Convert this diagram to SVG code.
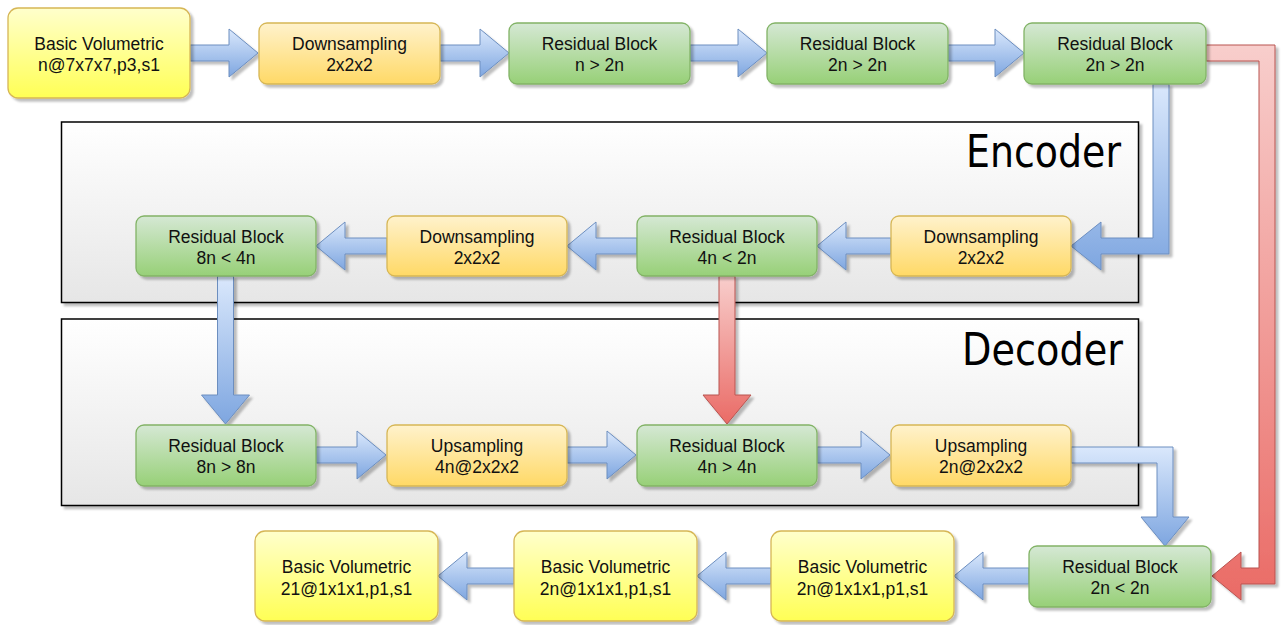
<svg xmlns="http://www.w3.org/2000/svg" width="1283" height="625" viewBox="0 0 1283 625">
  <defs>
    <linearGradient id="gYellow" x1="0" y1="0" x2="0" y2="1">
      <stop offset="0" stop-color="#ffffcc"/>
      <stop offset="1" stop-color="#ffff55"/>
    </linearGradient>
    <linearGradient id="gOrange" x1="0" y1="0" x2="0" y2="1">
      <stop offset="0" stop-color="#fff2cc"/>
      <stop offset="1" stop-color="#ffd966"/>
    </linearGradient>
    <linearGradient id="gGreen" x1="0" y1="0" x2="0" y2="1">
      <stop offset="0" stop-color="#d5e8d4"/>
      <stop offset="1" stop-color="#97d077"/>
    </linearGradient>
    <linearGradient id="gBlue" x1="0" y1="0" x2="0" y2="1">
      <stop offset="0" stop-color="#dae8fc"/>
      <stop offset="1" stop-color="#7ea6e0"/>
    </linearGradient>
    <linearGradient id="gRed" x1="0" y1="0" x2="0" y2="1">
      <stop offset="0" stop-color="#f8cecc"/>
      <stop offset="1" stop-color="#ea6b66"/>
    </linearGradient>
    <linearGradient id="gPanel" x1="0" y1="0" x2="0" y2="1">
      <stop offset="0" stop-color="#ffffff"/>
      <stop offset="1" stop-color="#e6e6e6"/>
    </linearGradient>
    <filter id="shadow" x="-5%" y="-5%" width="115%" height="120%">
      <feDropShadow dx="3" dy="3" stdDeviation="0.8" flood-color="#000000" flood-opacity="0.25"/>
    </filter>
  </defs>
  <style>
    .panel { fill: url(#gPanel); stroke: #000000; stroke-width: 1.5; filter: url(#shadow); }
    .panel-title { font-family: "DejaVu Sans", sans-serif; font-size: 44px; fill: #000000; text-anchor: end; }
    .box { stroke-width: 1.3; filter: url(#shadow); }
    .yellow { fill: url(#gYellow); stroke: #d6b656; }
    .orange { fill: url(#gOrange); stroke: #d6b656; }
    .green { fill: url(#gGreen); stroke: #82b366; }
    .label { font-family: "Liberation Sans", Arial, sans-serif; font-size: 17.5px; fill: #111111; text-anchor: middle; }
    .arrow { stroke-width: 1; stroke-linejoin: miter; filter: url(#shadow); }
    .blue { fill: url(#gBlue); stroke: #6c8ebf; }
    .red { fill: url(#gRed); stroke: #b85450; }
  </style>

  <rect width="1283" height="625" fill="#ffffff"/>

  <!-- containers -->
  <g id="encoder">
    <rect class="panel" x="61.5" y="122" width="1077" height="180.5"/>
    <text class="panel-title" x="1121" y="167" textLength="155" lengthAdjust="spacingAndGlyphs">Encoder</text>
  </g>
  <g id="decoder">
    <rect class="panel" x="61.5" y="319" width="1077" height="186.5"/>
    <text class="panel-title" x="1123" y="365" textLength="161" lengthAdjust="spacingAndGlyphs">Decoder</text>
  </g>

  <!-- connectors -->
  <g id="connectors">
    <!-- top row, pointing right (centre y 53) -->
    <path class="arrow blue" d="M190 45 H229 V29 L258 53 L229 77 V61 H190 Z"/>
    <path class="arrow blue" d="M440 45 H480 V29 L509 53 L480 77 V61 H440 Z"/>
    <path class="arrow blue" d="M690 45 H738 V29 L767 53 L738 77 V61 H690 Z"/>
    <path class="arrow blue" d="M948 45 H995 V29 L1024 53 L995 77 V61 H948 Z"/>
    <!-- down and back left into the encoder -->
    <path class="arrow blue" d="M1153 84 H1169 V254 H1101 V270 L1071 246 L1101 222 V238 H1153 Z"/>
    <!-- skip connection around the right side -->
    <path class="arrow red" d="M1206 45 H1275 V584 H1241 V600 L1212 576 L1241 552 V568 H1259 V61 H1206 Z"/>
    <!-- encoder row, pointing left (centre y 246) -->
    <path class="arrow blue" d="M891 238 H846 V222 L817 246 L846 270 V254 H891 Z"/>
    <path class="arrow blue" d="M637 238 H596 V222 L567 246 L596 270 V254 H637 Z"/>
    <path class="arrow blue" d="M387 238 H345 V222 L316 246 L345 270 V254 H387 Z"/>
    <!-- encoder to decoder -->
    <path class="arrow blue" d="M217.5 276 H233.5 V395 H249.5 L225.5 424 L201.5 395 H217.5 Z"/>
    <path class="arrow red" d="M719 276 H735 V395 H751 L727 424 L703 395 H719 Z"/>
    <!-- decoder row, pointing right (centre y 455) -->
    <path class="arrow blue" d="M316 447 H357 V431 L386 455 L357 479 V463 H316 Z"/>
    <path class="arrow blue" d="M567 447 H607 V431 L636 455 L607 479 V463 H567 Z"/>
    <path class="arrow blue" d="M817 447 H861 V431 L890 455 L861 479 V463 H817 Z"/>
    <!-- out of the decoder, down to the last residual block -->
    <path class="arrow blue" d="M1071 447 H1173 V517 H1189 L1165 546 L1141 517 H1157 V463 H1071 Z"/>
    <!-- bottom row, pointing left (centre y 576) -->
    <path class="arrow blue" d="M1029 568 H983 V552 L954 576 L983 600 V584 H1029 Z"/>
    <path class="arrow blue" d="M771 568 H726 V552 L697 576 L726 600 V584 H771 Z"/>
    <path class="arrow blue" d="M514 568 H467 V552 L438 576 L467 600 V584 H514 Z"/>
  </g>

  <!-- top row -->
  <g id="n-basic-in">
    <rect class="box yellow" x="8" y="8" width="182" height="90" rx="10"/>
    <text class="label"><tspan x="99" y="49.5">Basic Volumetric</tspan><tspan x="99" y="71">n@7x7x7,p3,s1</tspan></text>
  </g>
  <g id="n-down-1">
    <rect class="box orange" x="259" y="23" width="181" height="61" rx="8"/>
    <text class="label"><tspan x="349.5" y="50">Downsampling</tspan><tspan x="349.5" y="71">2x2x2</tspan></text>
  </g>
  <g id="n-res-1">
    <rect class="box green" x="509" y="23" width="181" height="61" rx="8"/>
    <text class="label"><tspan x="599.5" y="50">Residual Block</tspan><tspan x="599.5" y="71">n &gt; 2n</tspan></text>
  </g>
  <g id="n-res-2">
    <rect class="box green" x="767" y="23" width="181" height="61" rx="8"/>
    <text class="label"><tspan x="857.5" y="50">Residual Block</tspan><tspan x="857.5" y="71">2n &gt; 2n</tspan></text>
  </g>
  <g id="n-res-3">
    <rect class="box green" x="1024" y="23" width="182" height="61" rx="8"/>
    <text class="label"><tspan x="1115" y="50">Residual Block</tspan><tspan x="1115" y="71">2n &gt; 2n</tspan></text>
  </g>

  <!-- encoder row -->
  <g id="n-res-8n4n">
    <rect class="box green" x="136" y="216" width="180" height="60" rx="8"/>
    <text class="label"><tspan x="226" y="243">Residual Block</tspan><tspan x="226" y="264">8n &lt; 4n</tspan></text>
  </g>
  <g id="n-down-3">
    <rect class="box orange" x="387" y="216" width="180" height="60" rx="8"/>
    <text class="label"><tspan x="477" y="243">Downsampling</tspan><tspan x="477" y="264">2x2x2</tspan></text>
  </g>
  <g id="n-res-4n2n">
    <rect class="box green" x="637" y="216" width="180" height="60" rx="8"/>
    <text class="label"><tspan x="727" y="243">Residual Block</tspan><tspan x="727" y="264">4n &lt; 2n</tspan></text>
  </g>
  <g id="n-down-2">
    <rect class="box orange" x="891" y="216" width="180" height="60" rx="8"/>
    <text class="label"><tspan x="981" y="243">Downsampling</tspan><tspan x="981" y="264">2x2x2</tspan></text>
  </g>

  <!-- decoder row -->
  <g id="n-res-8n8n">
    <rect class="box green" x="136" y="425" width="180" height="61" rx="8"/>
    <text class="label"><tspan x="226" y="452">Residual Block</tspan><tspan x="226" y="473">8n &gt; 8n</tspan></text>
  </g>
  <g id="n-up-1">
    <rect class="box orange" x="387" y="425" width="180" height="61" rx="8"/>
    <text class="label"><tspan x="477" y="452">Upsampling</tspan><tspan x="477" y="473">4n@2x2x2</tspan></text>
  </g>
  <g id="n-res-4n4n">
    <rect class="box green" x="637" y="425" width="180" height="61" rx="8"/>
    <text class="label"><tspan x="727" y="452">Residual Block</tspan><tspan x="727" y="473">4n &gt; 4n</tspan></text>
  </g>
  <g id="n-up-2">
    <rect class="box orange" x="891" y="425" width="180" height="61" rx="8"/>
    <text class="label"><tspan x="981" y="452">Upsampling</tspan><tspan x="981" y="473">2n@2x2x2</tspan></text>
  </g>

  <!-- bottom row -->
  <g id="n-res-2n2n">
    <rect class="box green" x="1029" y="546" width="182" height="61" rx="8"/>
    <text class="label"><tspan x="1120" y="573">Residual Block</tspan><tspan x="1120" y="594">2n &lt; 2n</tspan></text>
  </g>
  <g id="n-basic-3">
    <rect class="box yellow" x="771" y="531" width="183" height="90" rx="10"/>
    <text class="label"><tspan x="862.5" y="573">Basic Volumetric</tspan><tspan x="862.5" y="594.5">2n@1x1x1,p1,s1</tspan></text>
  </g>
  <g id="n-basic-2">
    <rect class="box yellow" x="514" y="531" width="183" height="90" rx="10"/>
    <text class="label"><tspan x="605.5" y="573">Basic Volumetric</tspan><tspan x="605.5" y="594.5">2n@1x1x1,p1,s1</tspan></text>
  </g>
  <g id="n-basic-out">
    <rect class="box yellow" x="255" y="531" width="183" height="90" rx="10"/>
    <text class="label"><tspan x="346.5" y="573">Basic Volumetric</tspan><tspan x="346.5" y="594.5">21@1x1x1,p1,s1</tspan></text>
  </g>
</svg>
